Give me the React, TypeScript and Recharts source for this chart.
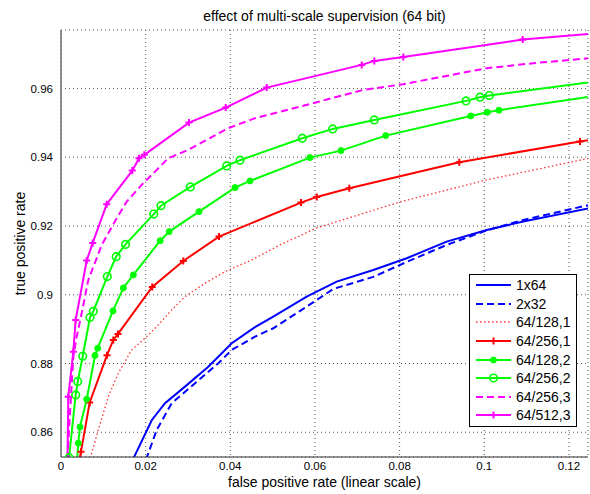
import React from "react";
import { CartesianGrid, Legend, Line, LineChart, XAxis, YAxis } from "recharts";

// [false positive rate, true positive rate]
const s1x64 = [
	[0.0158, 0.849], [0.02143, 0.8635], [0.02457, 0.86844], [0.02929, 0.87327], [0.0348, 0.87908],
	[0.04033, 0.88589], [0.04583, 0.89055], [0.05015, 0.89363], [0.05804, 0.89945], [0.06513, 0.90381],
	[0.07378, 0.90721], [0.08167, 0.91062], [0.09112, 0.91545], [0.10057, 0.91885], [0.10921, 0.92127],
	[0.1248, 0.92516], [0.13, 0.9265],
];
const s2x32 = [
	[0.0192, 0.849], [0.02261, 0.86067], [0.02615, 0.86844], [0.03166, 0.87425], [0.03716, 0.88007],
	[0.04033, 0.88394], [0.04583, 0.88781], [0.05015, 0.89025], [0.05804, 0.89654], [0.06433, 0.90169],
	[0.07378, 0.90518], [0.08167, 0.90954], [0.09112, 0.91449], [0.10057, 0.91871], [0.10921, 0.92176],
	[0.1248, 0.92612], [0.13, 0.9276],
];
const s128_1 = [
	[0.0066, 0.849], [0.00725, 0.85389], [0.00881, 0.86067], [0.01117, 0.87036], [0.01354, 0.87716],
	[0.0167, 0.88394], [0.02025, 0.88781], [0.02261, 0.89072], [0.02615, 0.89558], [0.02929, 0.89945],
	[0.03402, 0.90335], [0.03874, 0.90672], [0.04505, 0.91012], [0.05174, 0.91449], [0.06041, 0.91943],
	[0.08009, 0.92699], [0.10057, 0.9334], [0.1248, 0.93971], [0.13, 0.9411],
];
const s256_1 = [
	[0.0039, 0.849], [0.00472, 0.85436], [0.00678, 0.86867], [0.01087, 0.8824], [0.01236, 0.88685],
	[0.01347, 0.8886], [0.02155, 0.90227], [0.02889, 0.90983], [0.03733, 0.9169], [0.0567, 0.92679],
	[0.06041, 0.92845], [0.06811, 0.93098], [0.09409, 0.93855], [0.12261, 0.94454], [0.13, 0.9461],
];
const s128_2 = [
	[0.0036, 0.849], [0.00409, 0.8568], [0.00449, 0.86154], [0.00607, 0.8696], [0.00803, 0.88234],
	[0.00867, 0.88444], [0.01228, 0.89529], [0.01472, 0.90198], [0.01708, 0.90576], [0.02343, 0.91571],
	[0.02556, 0.91836], [0.0326, 0.92417], [0.04111, 0.93116], [0.04465, 0.9331], [0.05882, 0.93988],
	[0.06615, 0.94192], [0.07671, 0.94628], [0.09679, 0.95201], [0.10071, 0.95309], [0.10347, 0.95367],
	[0.13, 0.95855],
];
const s256_2 = [
	[0.0019, 0.8526], [0.00347, 0.87085], [0.00395, 0.87478], [0.00513, 0.88211], [0.00685, 0.8934],
	[0.00763, 0.8952], [0.01094, 0.90527], [0.01304, 0.91108], [0.01524, 0.91463], [0.02192, 0.92345],
	[0.02362, 0.92589], [0.03055, 0.93136], [0.03914, 0.93747], [0.04229, 0.93913], [0.057, 0.94553],
	[0.06419, 0.94823], [0.07402, 0.95085], [0.09568, 0.95638], [0.09899, 0.95745], [0.10119, 0.95792],
	[0.13, 0.96264],
];
const s256_3 = [
	[0.0014, 0.849], [0.00189, 0.86067], [0.00236, 0.87036], [0.00291, 0.882], [0.00371, 0.88781],
	[0.00489, 0.89462], [0.00645, 0.9043], [0.00962, 0.91449], [0.01316, 0.92225], [0.01552, 0.92708],
	[0.01906, 0.93194], [0.02221, 0.93581], [0.02535, 0.93971], [0.03007, 0.94212], [0.03952, 0.94844],
	[0.04583, 0.95135], [0.06041, 0.956], [0.07142, 0.95958], [0.08087, 0.96124], [0.10057, 0.96589],
	[0.11158, 0.96734], [0.13, 0.96935],
];
const s512_3 = [
	[0.0015, 0.849], [0.00172, 0.87036], [0.00291, 0.88345], [0.00347, 0.89267], [0.00607, 0.90992],
	[0.00749, 0.91507], [0.0108, 0.92633], [0.01684, 0.9361], [0.01843, 0.9397], [0.01968, 0.9407],
	[0.03024, 0.95007], [0.03891, 0.95443], [0.0486, 0.96025], [0.07104, 0.96685], [0.07402, 0.96801],
	[0.08087, 0.96912], [0.10907, 0.97421], [0.13, 0.9764],
];

const xTicks = [0, 0.02, 0.04, 0.06, 0.08, 0.1, 0.12];
const yTicks = [0.86, 0.88, 0.9, 0.92, 0.94, 0.96];

const FONT = "'Liberation Sans', Arial, Helvetica, sans-serif";

type Marker = "none" | "plus" | "dot" | "circle";

const series = [
	{ name: "1x64", pts: s1x64, color: "#0000ff", dash: undefined, width: 2, marker: "none" as Marker },
	{ name: "2x32", pts: s2x32, color: "#0000ff", dash: "7 4", width: 2, marker: "none" as Marker },
	{ name: "64/128,1", pts: s128_1, color: "#ff3030", dash: "1.5 2.5", width: 1.3, marker: "none" as Marker },
	{ name: "64/256,1", pts: s256_1, color: "#ff0000", dash: undefined, width: 2, marker: "plus" as Marker },
	{ name: "64/128,2", pts: s128_2, color: "#00ff00", dash: undefined, width: 2, marker: "dot" as Marker },
	{ name: "64/256,2", pts: s256_2, color: "#00ff00", dash: undefined, width: 2, marker: "circle" as Marker },
	{ name: "64/256,3", pts: s256_3, color: "#ff00ff", dash: "7 4", width: 2, marker: "none" as Marker },
	{ name: "64/512,3", pts: s512_3, color: "#ff00ff", dash: undefined, width: 2, marker: "plus" as Marker },
];

function markerShape(kind: Marker, cx: number, cy: number, color: string, key?: any) {
	if (kind === "plus") {
		return (
			<path key={key} d={`M${cx - 3.5},${cy}h7M${cx},${cy - 3.5}v7`} stroke={color} strokeWidth={2} fill="none" />
		);
	}
	if (kind === "dot") {
		return <circle key={key} cx={cx} cy={cy} r={3} fill={color} stroke={color} />;
	}
	if (kind === "circle") {
		return <circle key={key} cx={cx} cy={cy} r={3.8} fill="none" stroke={color} strokeWidth={1.6} />;
	}
	return <g key={key} />;
}

function LegendBox() {
	return (
		<div
			style={{
				border: "1px solid #000",
				background: "#fff",
				width: 106,
				height: 150,
				paddingTop: 1,
				boxSizing: "content-box",
				fontFamily: FONT,
				fontSize: 14,
			}}
		>
			{series.map((s) => (
				<div key={s.name} style={{ display: "flex", alignItems: "center", height: 18.6 }}>
					<svg width={44} height={18} style={{ display: "block" }}>
						<line x1={6} y1={9} x2={41} y2={9} stroke={s.color} strokeWidth={s.width} strokeDasharray={s.dash} />
						{markerShape(s.marker, 23.5, 9, s.color)}
					</svg>
					<span style={{ marginLeft: 2, lineHeight: "18px" }}>{s.name}</span>
				</div>
			))}
		</div>
	);
}

export default function App() {
	return (
		<div style={{ position: "absolute", left: 0, top: 0, width: 590, height: 494, background: "#fff", fontFamily: FONT }}>
			<div
				style={{
					position: "absolute",
					left: 61,
					width: 527,
					top: 8,
					textAlign: "center",
					fontSize: 14,
					lineHeight: "17px",
					color: "#000",
				}}
			>
				effect of multi-scale supervision (64 bit)
			</div>
			<LineChart width={590} height={494} margin={{ top: 30, right: 2, left: 0, bottom: 0 }}>
				<CartesianGrid stroke="#555" strokeDasharray="1 3" vertical horizontal />
				<XAxis
					type="number"
					dataKey="x"
					domain={[0, 0.1245]}
					ticks={xTicks}
					allowDataOverflow
					height={37}
					tickLine={false}
					tickSize={0}
					tickMargin={5}
					axisLine={{ stroke: "#333", strokeWidth: 1.2 }}
					tick={{ fontSize: 11.5, fill: "#000", fontFamily: FONT }}
					label={{
						value: "false positive rate (linear scale)",
						position: "insideBottom",
						offset: 7,
						fontSize: 14,
						fill: "#000",
						fontFamily: FONT,
					}}
				/>
				<YAxis
					type="number"
					dataKey="y"
					domain={[0.8528, 0.977]}
					ticks={yTicks}
					allowDataOverflow
					width={61}
					tickLine={false}
					tickSize={0}
					tickMargin={8}
					axisLine={{ stroke: "#777", strokeWidth: 1.6 }}
					tick={{ fontSize: 11.5, fill: "#000", fontFamily: FONT }}
					label={{
						content: (props: any) => {
							const vb = props.viewBox || { x: 0, y: 30, height: 427 };
							const cx = 20;
							const cy = vb.y + vb.height / 2;
							return (
								<text
									x={cx}
									y={cy}
									transform={`rotate(-90 ${cx} ${cy})`}
									textAnchor="middle"
									dominantBaseline="central"
									fontSize={14}
									fontFamily={FONT}
									fill="#000"
								>
									true positive rate
								</text>
							);
						},
					}}
				/>
				<Legend
					layout="vertical"
					align="center"
					verticalAlign="middle"
					wrapperStyle={{ left: 469, top: 274, width: 108, height: 152 }}
					content={() => <LegendBox />}
				/>
				{series.map((s) => (
					<Line
						key={s.name}
						name={s.name}
						data={s.pts.map(([x, y]) => ({ x, y }))}
						dataKey="y"
						type="linear"
						stroke={s.color}
						strokeWidth={s.width}
						strokeDasharray={s.dash}
						isAnimationActive={false}
						dot={
							s.marker === "none"
								? false
								: (p: any) => markerShape(s.marker, p.cx, p.cy, s.color, p.key ?? `${s.name}-${p.index}`)
						}
						activeDot={false}
					/>
				))}
			</LineChart>
		</div>
	);
}
